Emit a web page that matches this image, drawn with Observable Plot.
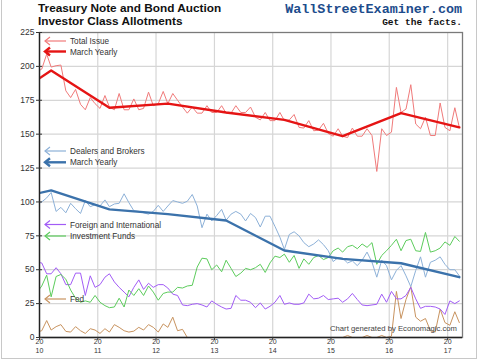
<!DOCTYPE html>
<html><head><meta charset="utf-8">
<script src="https://cdn.jsdelivr.net/npm/d3@7"></script>
<script src="https://cdn.jsdelivr.net/npm/@observablehq/plot@0.6"></script>
<style>
html,body{margin:0;padding:0;background:#fff;}
#wrap{position:relative;width:480px;height:362px;overflow:hidden;font-family:"Liberation Sans",Arial,sans-serif;}
#border{position:absolute;left:1px;top:-2px;width:476px;height:361px;border:1px solid #c8c8c8;box-sizing:border-box;pointer-events:none;}
.ov{position:absolute;white-space:nowrap;line-height:1;}
#t1,#t2{left:38px;font-weight:bold;font-size:11.8px;color:#111;}
#t1{top:3px;} #t2{top:15.5px;}
#wse{right:18px;top:3px;font-family:"Liberation Mono","DejaVu Sans Mono",monospace;font-weight:bold;font-size:13.4px;color:#1d4c8c;}
#gtf{right:18px;top:18px;font-family:"Liberation Mono","DejaVu Sans Mono",monospace;font-weight:bold;font-size:9.5px;color:#111;}
#credit{left:330px;top:325px;font-size:7.7px;color:#444;}
#leg{position:absolute;left:0;top:0;}
</style></head><body>
<div id="wrap">
  <div id="chart"></div>
  <svg id="leg" width="480" height="362"></svg>
  <div class="ov" id="t1">Treasury Note and Bond Auction</div>
  <div class="ov" id="t2">Investor Class Allotments</div>
  <div class="ov" id="wse">WallStreetExaminer.com</div>
  <div class="ov" id="gtf">Get the facts.</div>
  <div class="ov" id="credit">Chart generated by Economagic.com</div>
  <div id="border"></div>
</div>
<script>
// Monthly values, Dec 2009 .. Mar 2017 (first value is Dec 2009, clipped at left edge)
const totalIssue = [196,
  198, 209, 199.5, 200.5, 201, 182, 177, 183, 172, 168, 177, 172.5,
  169, 178.5, 170, 168, 180, 168, 168, 176, 168, 169, 181, 171,
  172.5, 181.5, 172.5, 180, 175, 170, 165.5, 170, 165.5, 165.5, 171, 166,
  166, 171, 165.5, 165.5, 171, 166, 166, 170, 162.5, 160.5, 166, 160,
  160, 166, 160, 160.5, 164.5, 155, 154.5, 160, 152.5, 153, 158, 150.5,
  148.5, 154, 148.5, 147.5, 154.5, 148.5, 148.5, 154, 149, 122.5, 154, 149,
  151.5, 184.5, 166, 168.5, 186.5, 157.5, 154, 162.5, 149, 149, 173, 155,
  152.5, 169.5, 155];
const dealers = [98,
  100, 103, 107, 93, 96, 92, 99, 95, 91.5, 101, 96.5, 98,
  97, 101.5, 96.5, 98.5, 99, 106, 99.5, 93.5, 93, 92, 91, 93,
  97.5, 93, 97, 101, 100, 99, 100.5, 105.5, 97, 81, 91, 86,
  90, 94.5, 86.5, 91, 93, 91, 86, 91.5, 88.5, 81.5, 89.5, 89.5,
  82, 74, 65, 76, 78, 75, 70, 67, 69, 72, 68.5, 64,
  56, 59, 58.5, 55, 56.5, 53, 57, 63, 55.5, 44.5, 57, 53,
  42.5, 49.5, 53, 45.5, 37.5, 49.5, 59.5, 44.5, 55.5, 57, 59.5, 54,
  50, 50, 45.5];
const foreign = [55.5,
  55, 47, 47, 51.5, 47, 39, 39, 47.5, 47.5, 31, 45.5, 37,
  39, 44.5, 47, 41, 37, 33.5, 30, 37, 42.5, 35.5, 40, 37,
  39, 39, 36.5, 32, 31, 24, 23.5, 24.5, 25, 24, 22.5, 27,
  24.5, 22.5, 21, 21.5, 31, 27.5, 27.5, 26, 22, 25.5, 21, 23,
  26, 31, 24.5, 25.5, 24.5, 24.5, 25.5, 32, 28.5, 29, 31, 28,
  28.5, 29, 26, 28.5, 32.5, 28, 24, 23.5, 24, 24.5, 32, 26,
  34, 28.5, 28.5, 31, 37, 28.5, 21.5, 23, 23, 22.5, 21, 17,
  27, 25, 27];
const investment = [33,
  38, 46, 30, 45, 46.5, 43, 35, 29, 26, 27, 26, 31,
  26, 23.5, 22, 22.5, 29, 22.5, 35, 31, 36, 31, 38, 33.5,
  27.5, 32.5, 33.5, 33.5, 37, 36.5, 38, 38.5, 52, 58.5, 58, 50,
  53.5, 48.5, 57, 51, 45, 47.5, 51, 50, 51.5, 54, 48, 55,
  60, 59, 61.5, 55.5, 60.5, 51, 58, 54, 59, 60.5, 57.5, 59,
  64, 66, 63, 67, 68, 65.5, 69, 66.5, 70, 54, 60.5, 64,
  68, 72.5, 64, 71.5, 72.5, 64, 63.5, 77.5, 63, 64, 66, 70.5,
  68, 74.5, 71];
const fed = [4,
  5, 12.5, 5.5, 8, 9.5, 4.5, 4, 8, 5, 3, 6.5, 5.5,
  3, 6.5, 4, 9.5, 7.5, 5, 4, 4.7, 7.5, 5.5, 9.5, 7.5,
  4, 10, 7.5, 15, 5, 6, 0, 0, 0, 0, 0, 0,
  0, 0, 0, 0, 0, 0, 0, 0, 0, 0, 0, 0,
  0, 0, 0, 0, 0, 0, 0, 0, 0, 0, 0, 0,
  0, 0, 0, 1.5, 0, 0, 0, 1.5, 0, 0, 1.5, 0,
  1, 34, 14, 28, 37.5, 15, 12, 14, 5, 4, 21, 11,
  9, 19, 11];
// March yearly averages (March 2009 .. March 2017)
const marchYears = [2009, 2010, 2011, 2012, 2013, 2014, 2015, 2016, 2017];
const marchTotal = [168, 197, 169.5, 172.5, 166, 160.5, 148.5, 165.5, 155];
const marchDealers = [99, 108.5, 94.5, 91, 86.3, 64.2, 58, 54.8, 44.5];
// Axis ticks
const yTicks = [0, 25, 50, 75, 100, 125, 150, 175, 200, 225];
const tickYears = [2010, 2011, 2012, 2013, 2014, 2015, 2016, 2017];

const colors = {
  total: "#f07a7a", totalM: "#e51414",
  dealers: "#8db1d8", dealersM: "#3b72ab",
  foreign: "#a25cf6", invest: "#5ccc5c", fed: "#c8935f"
};

const firstMonth = new Date(Date.UTC(2009, 11, 1));
const months = d3.utcMonth.range(firstMonth, d3.utcMonth.offset(firstMonth, totalIssue.length))
  .map(m => d3.utcDay.offset(m, 14));
const rows = months.map((date, i) => ({
  date, total: totalIssue[i], dealers: dealers[i], foreign: foreign[i],
  invest: investment[i], fed: fed[i]
}));
const marchRows = marchYears.map((y, i) => ({
  date: new Date(Date.UTC(y, 2, 15)), total: marchTotal[i], dealers: marchDealers[i]
}));
const xDomain = [new Date(Date.UTC(2010, 0, 1)), new Date(Date.UTC(2017, 3, 4))];
const xTickDates = tickYears.map(y => new Date(Date.UTC(y, 0, 1)));

const chart = Plot.plot({
  width: 480, height: 362,
  marginLeft: 39, marginRight: 18, marginTop: 32, marginBottom: 25,
  style: {fontFamily: '"Liberation Sans", Arial, sans-serif', background: "transparent", color: "#333"},
  x: {type: "utc", domain: xDomain},
  y: {domain: [0, 225]},
  marks: [
    Plot.gridY(yTicks, {stroke: "#d6d6d6", strokeOpacity: 1, strokeWidth: 1.2}),
    Plot.gridX(xTickDates, {stroke: "#d6d6d6", strokeOpacity: 1, strokeWidth: 1.2}),
    Plot.line(rows, {x: "date", y: "fed", stroke: colors.fed, strokeWidth: 1, clip: true}),
    Plot.line(rows, {x: "date", y: "foreign", stroke: colors.foreign, strokeWidth: 1, clip: true}),
    Plot.line(rows, {x: "date", y: "invest", stroke: colors.invest, strokeWidth: 1, clip: true}),
    Plot.line(rows, {x: "date", y: "dealers", stroke: colors.dealers, strokeWidth: 1, clip: true}),
    Plot.line(marchRows, {x: "date", y: "dealers", stroke: colors.dealersM, strokeWidth: 2.4, clip: true}),
    Plot.line(rows, {x: "date", y: "total", stroke: colors.total, strokeWidth: 1, clip: true}),
    Plot.line(marchRows, {x: "date", y: "total", stroke: colors.totalM, strokeWidth: 2.4, clip: true}),
    Plot.frame({stroke: "#7a7a7a", strokeWidth: 1.3}),
    Plot.ruleX([xDomain[0]], {stroke: "#222", strokeWidth: 1.3}),
    Plot.ruleY([0], {stroke: "#222", strokeWidth: 1.3}),
    Plot.axisY(yTicks, {tickSize: 3, tickPadding: 2, fontSize: 8.5, stroke: "#333", fill: "#333"}),
    Plot.axisY(yTicks, {tickSize: -3, tickFormat: () => "", stroke: "#333"}),
    Plot.axisX(xTickDates, {tickSize: 3, tickPadding: -1, fontSize: 7, stroke: "#333", fill: "#333",
      tickFormat: d => String(d.getUTCFullYear()).slice(0, 2)}),
    Plot.axisX(xTickDates, {tickSize: 0, tickPadding: 11, fontSize: 7, fill: "#333",
      tickFormat: d => String(d.getUTCFullYear()).slice(2)})
  ]
});
document.getElementById("chart").appendChild(chart);

// Legend (arrows pointing at the left axis)
const legend = [
  {label: "Total Issue", color: colors.total, w: 1.2, y: 41},
  {label: "March Yearly", color: colors.totalM, w: 2.4, y: 51.5},
  {label: "Dealers and Brokers", color: colors.dealers, w: 1.2, y: 151},
  {label: "March Yearly", color: colors.dealersM, w: 2.4, y: 162.3},
  {label: "Foreign and International", color: colors.foreign, w: 1.2, y: 224.5},
  {label: "Investment Funds", color: colors.invest, w: 1.2, y: 236},
  {label: "Fed", color: colors.fed, w: 1.2, y: 299}
];
const svg = d3.select("#leg");
for (const d of legend) {
  const g = svg.append("g");
  g.append("line").attr("x1", 45).attr("x2", 66).attr("y1", d.y).attr("y2", d.y)
    .attr("stroke", d.color).attr("stroke-width", d.w);
  g.append("polyline").attr("points", `50,${d.y - 4} 45,${d.y} 50,${d.y + 4}`)
    .attr("fill", "none").attr("stroke", d.color).attr("stroke-width", d.w);
  g.append("text").attr("x", 70).attr("y", d.y + 3).attr("font-size", 8.2).attr("fill", "#333")
    .attr("font-family", '"Liberation Sans", Arial, sans-serif').text(d.label);
}
</script>
</body></html>
